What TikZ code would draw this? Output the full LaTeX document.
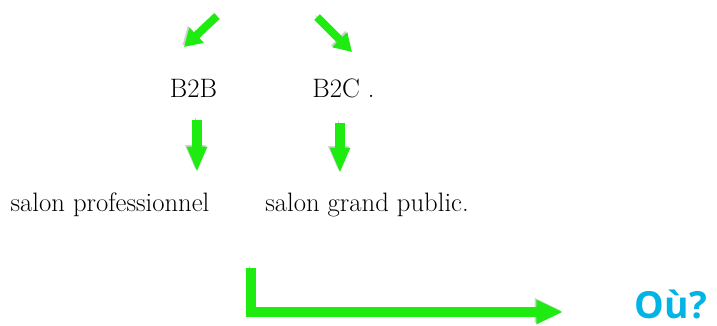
\documentclass[tikz,border=0pt]{standalone}
\usepackage{fontspec}
\newfontfamily\oufont{Open Sans}
\usepackage{xcolor}
\usepackage{tikz}
\usetikzlibrary{positioning,arrows.meta}

\definecolor{flechevert}{RGB}{30,235,15}
\definecolor{oubleu}{RGB}{0,180,230}

\begin{document}
\begin{tikzpicture}[x=0.75pt, y=-0.75pt, node distance=112.5pt,
        font=\fontsize{20}{24}\selectfont,
        mot/.style={anchor=base, inner sep=0pt},
        ombre/.style={preaction={draw=black!40, opacity=.45, transform canvas={shift={(-1.2pt,1.2pt)}}}},
        fleche/.style={draw=flechevert, line width=6pt, ombre, -{Triangle[width=15pt,length=13pt]}},
        flechebas/.style={draw=flechevert, line width=7.5pt, ombre, -{Triangle[width=14pt,length=19pt]}},
        flechelong/.style={draw=flechevert, line width=7pt, line join=miter, ombre, -{Triangle[width=17pt,length=20pt]}}]
        \useasboundingbox (0,0) rectangle (717,325);

        \node (b2b) [mot] at (193.5,97) {B2B};
        \node (b2c) [mot, right of=b2b] {B2C .};

        \node (pro) [mot] at (110,211) {salon professionnel};
        \node (public) [mot] at (367,211) {salon grand public.};

        \node (ou) [mot, text=oubleu, font=\oufont\bfseries\fontsize{28}{32}\selectfont] at (671,318) {Où?};

        \coordinate (g1) at (217,16);
        \coordinate (g2) at (184,47);
        \coordinate (d1) at (317,17);
        \coordinate (d2) at (352,52);
        \coordinate (bg1) at (197,120);
        \coordinate (bg2) at (197,172);
        \coordinate (bd1) at (340,123);
        \coordinate (bd2) at (340,173);
        \coordinate (l1) at (251,268);
        \coordinate (l2) at (563,312);

        \draw[fleche] (g1) -- (g2);
        \draw[fleche] (d1) -- (d2);

        \draw[flechebas] (bg1) -- (bg2);
        \draw[flechebas] (bd1) -- (bd2);

        \draw[flechelong] (l1) |- (l2);
    \end{tikzpicture}
\end{document}
